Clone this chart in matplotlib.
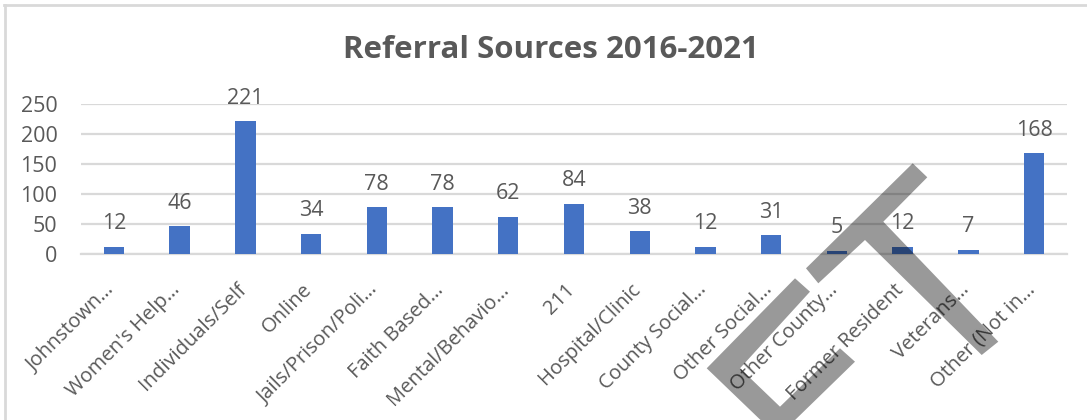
import matplotlib
matplotlib.use("Agg")
import matplotlib.pyplot as plt
from matplotlib.patches import Polygon
from matplotlib.lines import Line2D
from matplotlib.transforms import ScaledTranslation

categories = ["Johnstown…", "Women's Help…", "Individuals/Self", "Online",
              "Jails/Prison/Poli…", "Faith Based…", "Mental/Behavio…", "211",
              "Hospital/Clinic", "County Social…", "Other Social…", "Other County…",
              "Former Resident", "Veterans…", "Other (Not in…"]
values = [12, 46, 221, 34, 78, 78, 62, 84, 38, 12, 31, 5, 12, 7, 168]
yticks = [0, 50, 100, 150, 200, 250]
title = "Referral Sources 2016-2021"

W, H = 1087, 420
TXT = "#595959"
GRID = "#d9d9d9"
BAR = "#4472C4"
plt.rcParams['font.family'] = ['Open Sans', 'DejaVu Sans']

fig = plt.figure(figsize=(W / 100, H / 100), dpi=100)
ax = fig.add_axes([81 / W, 1 - 254 / H, (1067 - 81) / W, (254 - 104) / H])

x = list(range(len(categories)))
ax.bar(x, values, width=0.31, color=BAR, zorder=3)
ax.set_xlim(-0.5, len(categories) - 0.5)
ax.set_ylim(0, 250)
ax.set_yticks(yticks)
ax.set_yticklabels([str(t) for t in yticks], fontsize=15.5, color=TXT)
ax.yaxis.grid(True, color=GRID, linewidth=1.6, zorder=0)
ax.set_axisbelow(True)
for s in ["top", "right", "left"]:
    ax.spines[s].set_visible(False)
ax.spines["bottom"].set_color(GRID)
ax.spines["bottom"].set_linewidth(1.6)
ax.tick_params(axis='both', length=0)
ax.tick_params(axis='y', pad=17)

ax.set_xticks(x)
ax.set_xticklabels(categories, rotation=45, ha='right', va='center',
                   rotation_mode='anchor', fontsize=14.5, color=TXT)
ax.tick_params(axis='x', pad=20)
shift = ScaledTranslation(-0.02, -0.05, fig.dpi_scale_trans)
for lab in ax.get_xticklabels():
    lab.set_transform(lab.get_transform() + shift)

for xi, v in zip(x, values):
    ax.annotate(str(v), (xi, v), xytext=(0, 9), textcoords='offset points',
                ha='center', va='bottom', fontsize=15.5, color=TXT)

fig.text(551 / W, 1 - 50 / H, title, ha='center', va='center', fontsize=22.5,
         fontweight='bold', color=TXT)

# chart border (top and left only visible)
fig.add_artist(Line2D([4 / W, 1.0], [1 - 5 / H, 1 - 5 / H], color=GRID, lw=2,
                      transform=fig.transFigure))
fig.add_artist(Line2D([4.5 / W, 4.5 / W], [0, 1 - 5 / H], color=GRID, lw=2,
                      transform=fig.transFigure))

# watermark overlay (pixel coordinates)
t_shape = [(912.7, 163.3), (927.3, 177.3), (883.3, 221.7), (998.3, 341.7),
           (981.7, 355.0), (865.0, 240.0), (818.3, 283.3), (806.0, 268.3)]
u_shape = [(795.0, 278.3), (706.7, 368.3), (777.9, 436.7), (855.0, 361.7),
           (840.0, 348.3), (780.0, 406.7), (740.0, 368.3), (810.0, 291.7)]
for shp in (t_shape, u_shape):
    pts = [(px / W, 1 - py / H) for px, py in shp]
    fig.add_artist(Polygon(pts, closed=True, facecolor='black', alpha=0.4,
                           edgecolor='none', transform=fig.transFigure, zorder=10))

fig.savefig("out.png", dpi=100)
